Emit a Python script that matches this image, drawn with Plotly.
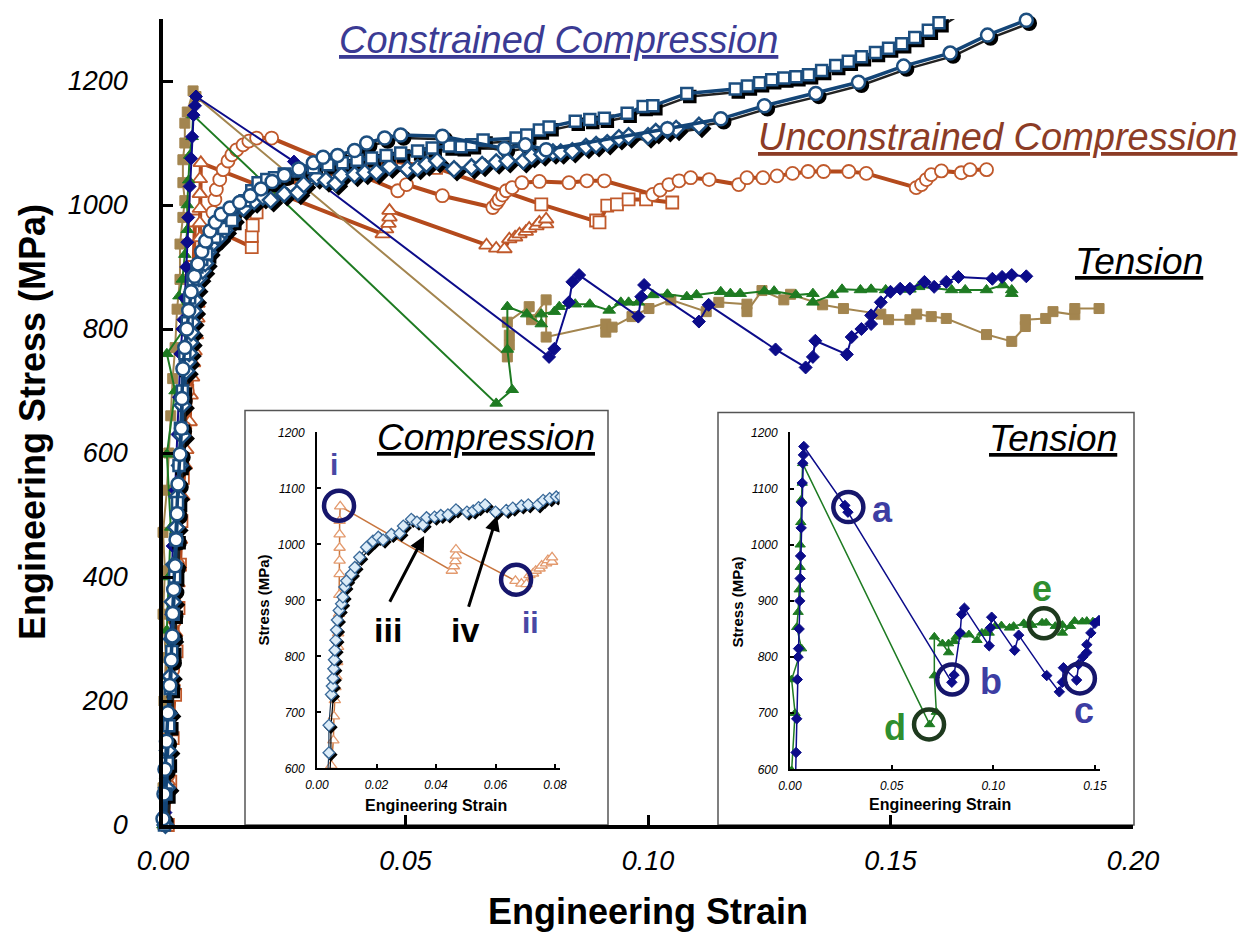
import plotly.graph_objects as go

# ------------------------------------------------------------------
# DATA
# ------------------------------------------------------------------
# Constrained compression - open squares
cc_sq_x = [0.0003, 0.0006, 0.0009, 0.0012, 0.0015, 0.0018, 0.0021, 0.0024, 0.0027, 0.0030,
           0.0033, 0.0036, 0.0040, 0.0045, 0.0050, 0.0055, 0.0062, 0.0070, 0.0080, 0.0090,
           0.0107, 0.0125, 0.0142, 0.0169, 0.0183, 0.0196, 0.0214, 0.0230, 0.0250, 0.0280,
           0.0310, 0.0340, 0.0370, 0.0400, 0.0430, 0.0460, 0.0490, 0.0525, 0.0555, 0.0590,
           0.0615, 0.0636, 0.0660, 0.0728, 0.0750, 0.0776, 0.0796, 0.0850, 0.0880, 0.0910,
           0.0957, 0.0990, 0.1010, 0.1080, 0.1180, 0.1205, 0.1230, 0.1255, 0.1280, 0.1305,
           0.1331, 0.1358, 0.1387, 0.1413, 0.1440, 0.1469, 0.1496, 0.1523, 0.1550, 0.1578,
           0.1600, 0.1625]
cc_sq_y = [0, 50, 100, 160, 220, 280, 340, 400, 460, 520,
           580, 640, 700, 760, 810, 850, 880, 900, 912, 921,
           948, 962, 975, 1007, 1023, 1036, 1041, 1044, 1050, 1055,
           1060, 1065, 1068, 1072, 1076, 1080, 1084, 1087, 1092, 1095,
           1094, 1097, 1105, 1108, 1113, 1121, 1126, 1135, 1138, 1140,
           1148, 1159, 1160, 1180, 1187, 1192, 1197, 1202, 1205, 1207,
           1210, 1217, 1225, 1232, 1239, 1246, 1253, 1260, 1270, 1282,
           1294, 1306]

# Constrained compression - open circles
cc_ci_x = [0.0000, 0.0002, 0.0004, 0.0007, 0.0010, 0.0014, 0.0017, 0.0019, 0.0020, 0.0022,
           0.0025, 0.0027, 0.0029, 0.0031, 0.0035, 0.0038, 0.0039, 0.0041, 0.0045, 0.0049,
           0.0053, 0.0058, 0.0065, 0.0072, 0.0080, 0.0088, 0.0097, 0.0108, 0.0120, 0.0138,
           0.0158, 0.0180, 0.0202, 0.0225, 0.0250, 0.0280, 0.0310, 0.0330, 0.0360, 0.0395,
           0.0420, 0.0457, 0.0490, 0.0576, 0.0704, 0.0747, 0.0790, 0.1040, 0.1150, 0.1240,
           0.1346, 0.1434, 0.1527, 0.1623, 0.1700, 0.1780]
cc_ci_y = [10, 50, 90, 135, 181, 225, 266, 305, 341, 380,
           418, 460, 502, 550, 598, 640, 688, 736, 770, 800,
           830, 860, 885, 905, 925, 942, 958, 972, 985, 995,
           1004, 1015, 1026, 1038, 1048, 1058, 1068, 1077, 1080, 1088,
           1100, 1108, 1113, 1111, 1091, 1097, 1089, 1123, 1139, 1160,
           1180, 1198, 1224, 1245, 1274, 1298]

# Constrained compression - open diamonds (also shown in the Compression inset)
cc_di_x = [0.0005, 0.0008, 0.0010, 0.0012, 0.0015, 0.0018, 0.0020, 0.0023, 0.0027, 0.0030,
           0.0035, 0.0040, 0.0040, 0.0048, 0.0051, 0.0054, 0.0056, 0.0058, 0.0060, 0.0063,
           0.0065, 0.0068, 0.0074, 0.0082, 0.0087, 0.0093, 0.0099, 0.0115, 0.0127, 0.0143,
           0.0166, 0.0188, 0.0206, 0.0222, 0.0250, 0.0278, 0.0290, 0.0317, 0.0336, 0.0356,
           0.0368, 0.0395, 0.0416, 0.0440, 0.0467, 0.0504, 0.0525, 0.0543, 0.0565, 0.0600,
           0.0636, 0.0658, 0.0687, 0.0710, 0.0743, 0.0760, 0.0782, 0.0804, 0.0820, 0.0844,
           0.0872, 0.0893, 0.0916, 0.0940, 0.0960, 0.1000, 0.1016, 0.1040, 0.1058, 0.1105]
cc_di_y = [0, 60, 120, 180, 240, 300, 360, 420, 480, 530,
           580, 628, 677, 732, 747, 761, 778, 794, 811, 829,
           847, 865, 882, 894, 906, 924, 935, 947, 959, 977,
           995, 1006, 1013, 1008, 1018, 1020, 1033, 1045, 1040, 1035,
           1048, 1049, 1052, 1053, 1062, 1058, 1060, 1066, 1071, 1058,
           1061, 1065, 1069, 1071, 1071, 1079, 1082, 1085, 1085, 1087,
           1094, 1097, 1100, 1108, 1111, 1111, 1118, 1121, 1123, 1128]

# Unconstrained compression - open circles
uc_ci_x = [0.0005, 0.0010, 0.0015, 0.0020, 0.0025, 0.0030, 0.0035, 0.0040, 0.0045, 0.0050,
           0.0055, 0.0060, 0.0066, 0.0075, 0.0085, 0.0095, 0.0103, 0.0107, 0.0110, 0.0117,
           0.0124, 0.0134, 0.0142, 0.0152, 0.0165, 0.0177, 0.0193, 0.0224, 0.0484, 0.0502,
           0.0576, 0.0680, 0.0688, 0.0693, 0.0700, 0.0708, 0.0720, 0.0740, 0.0776, 0.0837,
           0.0874, 0.0910, 0.1010, 0.1025, 0.1043, 0.1064, 0.1088, 0.1126, 0.1187, 0.1204,
           0.1237, 0.1266, 0.1298, 0.1330, 0.1362, 0.1414, 0.1450, 0.1553, 0.1564, 0.1574,
           0.1584, 0.1605, 0.1646, 0.1664, 0.1698]
uc_ci_y = [0, 80, 160, 250, 330, 420, 500, 580, 640, 700,
           750, 800, 840, 880, 920, 955, 988, 1009, 1025, 1041,
           1057, 1071, 1081, 1089, 1097, 1103, 1108, 1108, 1023, 1033,
           1015, 996, 1003, 1009, 1016, 1023, 1028, 1036, 1038, 1036,
           1039, 1039, 1017, 1024, 1033, 1039, 1044, 1041, 1033, 1044,
           1044, 1047, 1051, 1054, 1054, 1054, 1051, 1028, 1033, 1041,
           1049, 1055, 1052, 1057, 1057]

# Unconstrained compression - open squares
uc_sq_x = [0.0010, 0.0015, 0.0020, 0.0025, 0.0028, 0.0032, 0.0035, 0.0038, 0.0041, 0.0045,
           0.0050, 0.0055, 0.0060, 0.0063, 0.0066, 0.0183, 0.0183, 0.0185, 0.0193, 0.0196,
           0.0200, 0.0470, 0.0563, 0.0780, 0.0893, 0.0900, 0.0916, 0.0936, 0.0960, 0.0996,
           0.1050]
uc_sq_y = [0, 70, 140, 210, 280, 350, 420, 490, 560, 630,
           700, 770, 840, 900, 975, 932, 950, 967, 988, 1009,
           1025, 1071, 1060, 1001, 975, 972, 999, 1001, 1009, 1009,
           1004]

# Unconstrained compression - open triangles (also shown in the Compression inset)
uc_tr_x = [0.0005, 0.0010, 0.0015, 0.0020, 0.0025, 0.0030, 0.0035, 0.0040, 0.0045, 0.0048,
           0.0055, 0.0057, 0.0060, 0.0062, 0.0065, 0.0068, 0.0071, 0.0071, 0.0074, 0.0075,
           0.0076, 0.0076, 0.0076, 0.0076, 0.0076, 0.0078, 0.0453, 0.0460, 0.0465, 0.0467,
           0.0467, 0.0667, 0.0687, 0.0704, 0.0714, 0.0726, 0.0735, 0.0748, 0.0755, 0.0770,
           0.0776, 0.0790, 0.0790]
uc_tr_y = [0, 70, 150, 230, 310, 390, 460, 530, 580, 605,
           650, 693, 722, 745, 764, 790, 817, 841, 876, 910,
           947, 971, 994, 1018, 1042, 1068, 953, 961, 970, 980,
           991, 935, 930, 929, 945, 948, 953, 957, 962, 966,
           972, 969, 977]

# Tension - filled navy diamonds (also shown in the Tension inset)
t_di_x = [0.0005, 0.0010, 0.0013, 0.0017, 0.0020, 0.0025, 0.0030, 0.0033, 0.0036, 0.0040,
          0.0042, 0.0045, 0.0048, 0.0050, 0.0052, 0.0055, 0.0058, 0.0060, 0.0063, 0.0066,
          0.0068, 0.0270, 0.0285, 0.0796, 0.0807, 0.0837, 0.0844, 0.0858, 0.0980, 0.0986,
          0.0992, 0.1105, 0.1125, 0.1263, 0.1325, 0.1340, 0.1345, 0.1410, 0.1420, 0.1440,
          0.1460, 0.1460, 0.1480, 0.1500, 0.1520, 0.1540, 0.1570, 0.1590, 0.1615, 0.1640,
          0.1710, 0.1730, 0.1750, 0.1780]
t_di_y = [20, 120, 230, 340, 450, 540, 630, 690, 760, 800,
          815, 850, 900, 940, 980, 1030, 1075, 1110, 1145, 1160,
          1175, 1070, 1058, 755, 768, 843, 876, 887, 820, 852,
          871, 812, 839, 767, 738, 755, 781, 759, 787, 800,
          808, 822, 843, 860, 865, 865, 876, 868, 876, 884,
          881, 884, 887, 885]

# Tension - filled green triangles (also shown in the Tension inset)
t_tr_x = [0.0000, 0.0005, 0.0010, 0.0012, 0.0008, 0.0012, 0.0016, 0.0008, 0.0025, 0.0008,
          0.0057, 0.0033, 0.0040, 0.0045, 0.0050, 0.0050, 0.0053, 0.0055, 0.0060, 0.0062,
          0.0687, 0.0720, 0.0710, 0.0710, 0.0750, 0.0780, 0.0780, 0.0807, 0.0817, 0.0850,
          0.0880, 0.0920, 0.0944, 0.0960, 0.0980, 0.1010, 0.1040, 0.1080, 0.1100, 0.1150,
          0.1170, 0.1190, 0.1240, 0.1260, 0.1305, 0.1340, 0.1340, 0.1380, 0.1400, 0.1438,
          0.1460, 0.1490, 0.1520, 0.1540, 0.1558, 0.1626, 0.1654, 0.1698, 0.1732, 0.1750,
          0.1750]
t_tr_y = [0, 80, 160, 240, 314, 400, 480, 598, 700, 760,
          815, 853, 880, 920, 960, 1000, 1040, 1080, 1110, 1145,
          680, 702, 767, 836, 824, 808, 824, 828, 836, 840,
          840, 830, 843, 843, 843, 855, 856, 852, 855, 860,
          857, 857, 861, 861, 855, 857, 843, 855, 864, 863,
          864, 863, 864, 864, 868, 863, 863, 863, 871, 863,
          857]

# Tension - filled tan squares
t_sq_x = [0.0000, 0.0000, 0.0005, 0.0002, 0.0006, 0.0000, 0.0004, 0.0000, 0.0008, 0.0012,
          0.0016, 0.0020, 0.0025, 0.0029, 0.0035, 0.0035, 0.0041, 0.0045, 0.0041, 0.0041,
          0.0045, 0.0045, 0.0050, 0.0062, 0.0068, 0.0710, 0.0714, 0.0714, 0.0710, 0.0755,
          0.0760, 0.0790, 0.0790, 0.0913, 0.0913, 0.0926, 0.0967, 0.1002, 0.1047, 0.1120,
          0.1146, 0.1204, 0.1204, 0.1235, 0.1280, 0.1294, 0.1360, 0.1403, 0.1480, 0.1496,
          0.1540, 0.1554, 0.1584, 0.1615, 0.1698, 0.1750, 0.1778, 0.1778, 0.1820, 0.1835,
          0.1880, 0.1880, 0.1930]
t_sq_y = [0, 60, 130, 200, 270, 340, 410, 472, 540, 600,
          660, 720, 770, 832, 880, 937, 980, 1007, 1036, 1073,
          1100, 1132, 1150, 1184, 1175, 755, 774, 790, 811, 836,
          815, 847, 787, 808, 795, 803, 820, 833, 847, 828,
          843, 840, 828, 862, 847, 856, 839, 833, 824, 815,
          815, 824, 820, 817, 791, 780, 804, 815, 817, 828,
          823, 833, 833]

# Tick values / labels
main_xticks = [0.0, 0.05, 0.10, 0.15, 0.20]
main_xtext = ["0.00", "0.05", "0.10", "0.15", "0.20"]
main_yticks = [0, 200, 400, 600, 800, 1000, 1200]
in1_xticks = [0.0, 0.02, 0.04, 0.06, 0.08]
in1_xtext = ["0.00", "0.02", "0.04", "0.06", "0.08"]
in2_xticks = [0.0, 0.05, 0.10, 0.15]
in2_xtext = ["0.00", "0.05", "0.10", "0.15"]
in_yticks = [600, 700, 800, 900, 1000, 1100, 1200]

# ------------------------------------------------------------------
# LAYOUT HELPERS
# ------------------------------------------------------------------
FONT = "Liberation Sans, Arial, Helvetica, sans-serif"
W, H = 1253, 938
L, R, T, B = 163, 1133, 15, 826          # main plotting area (pixels)
MAIN_X, MAIN_Y = [0, 0.2], [0, 1300]
IN1_X, IN2_X, IN_Y = [0, 0.0815], [0, 0.1525], [600, 1200]


def fx(p):
    return (p - L) / (R - L)


def fy(p):
    return (B - p) / (B - T)


def shift(vals, d):
    return [v + d for v in vals]


# shadow offsets (3 px right / down in main, 2 px in inset)
sdx = 3 * (MAIN_X[1] - MAIN_X[0]) / (R - L)
sdy = -3 * (MAIN_Y[1] - MAIN_Y[0]) / (B - T)
in1_px_w = 559.5 - 317
sdx1 = 2 * (IN1_X[1] - IN1_X[0]) / in1_px_w
sdy1 = -2 * (IN_Y[1] - IN_Y[0]) / (769 - 431)

fig = go.Figure()


def add(x, y, xa="x", ya="y", lc="black", lw=2, sym="circle", ms=10,
        fill="white", mlc="black", mlw=1.5, clip=False):
    fig.add_trace(go.Scatter(
        x=x, y=y, xaxis=xa, yaxis=ya, mode="lines+markers",
        line=dict(color=lc, width=lw),
        marker=dict(symbol=sym, size=ms, color=fill,
                    line=dict(color=mlc, width=mlw)),
        cliponaxis=clip, hoverinfo="skip", showlegend=False))


BROWN_L, BROWN_M = "#b44a1c", "#c0592b"
BLUE_L, BLUE_M = "#134577", "#1d4f80"
NAVY, GREEN, TAN = "#0c0c8a", "#1e7b22", "#a3854f"

# --- main: unconstrained compression
add(uc_sq_x, uc_sq_y, lc=BROWN_L, lw=4, sym="square", ms=12, fill="white", mlc=BROWN_M, mlw=1.8)
add(uc_tr_x, uc_tr_y, lc=BROWN_L, lw=4, sym="triangle-up", ms=13, fill="white", mlc=BROWN_M, mlw=1.8)
add(uc_ci_x, uc_ci_y, lc=BROWN_L, lw=4, sym="circle", ms=13, fill="white", mlc=BROWN_M, mlw=1.8)
# --- main: tension
add(t_sq_x, t_sq_y, lc=TAN, lw=2, sym="square", ms=10, fill=TAN, mlc=TAN, mlw=1)
add(t_tr_x, t_tr_y, lc=GREEN, lw=2, sym="triangle-up", ms=11, fill=GREEN, mlc=GREEN, mlw=1)
add(t_di_x, t_di_y, lc=NAVY, lw=2, sym="diamond", ms=10, fill=NAVY, mlc=NAVY, mlw=1)
# --- main: constrained compression (black drop shadow first)
for xs, ys, sym, ms in [(cc_di_x, cc_di_y, "diamond", 12),
                        (cc_sq_x, cc_sq_y, "square", 11),
                        (cc_ci_x, cc_ci_y, "circle", 13)]:
    add(shift(xs, sdx), shift(ys, sdy), lc="#222222", lw=2.5, sym=sym, ms=ms,
        fill="black", mlc="black", mlw=2.5)
for xs, ys, sym, ms in [(cc_di_x, cc_di_y, "diamond", 12),
                        (cc_sq_x, cc_sq_y, "square", 11),
                        (cc_ci_x, cc_ci_y, "circle", 13)]:
    add(xs, ys, lc=BLUE_L, lw=3.5, sym=sym, ms=ms, fill="white", mlc=BLUE_M, mlw=2.5)

# --- inset 1 (Compression)
add(uc_tr_x, uc_tr_y, "x2", "y2", lc="#c8763f", lw=1.5, sym="triangle-up", ms=10,
    fill="white", mlc="#e39a6e", mlw=1.3, clip=True)
add(shift(cc_di_x, sdx1), shift(cc_di_y, sdy1), "x2", "y2", lc="black", lw=1.2,
    sym="diamond", ms=9, fill="black", mlc="black", mlw=1.3, clip=True)
add(cc_di_x, cc_di_y, "x2", "y2", lc="#1c3a5a", lw=1.2, sym="diamond", ms=9,
    fill="#dcecf8", mlc="#3a6a9a", mlw=1.3, clip=True)

# --- inset 2 (Tension)
add(t_tr_x, t_tr_y, "x3", "y3", lc=GREEN, lw=1.5, sym="triangle-up", ms=9,
    fill=GREEN, mlc=GREEN, mlw=1, clip=True)
add(t_di_x, t_di_y, "x3", "y3", lc=NAVY, lw=1.5, sym="diamond", ms=8,
    fill=NAVY, mlc=NAVY, mlw=1, clip=True)

# ------------------------------------------------------------------
# AXES
# ------------------------------------------------------------------
tickf_main = dict(family=FONT, size=27, color="black", style="italic")
tickf_in = dict(family=FONT, size=12, color="black", style="italic")
common = dict(showgrid=False, zeroline=False, showline=True, linecolor="black")

fig.update_layout(
    width=W, height=H,
    margin=dict(l=L, r=W - R, t=T, b=H - B, pad=0),
    paper_bgcolor="white", plot_bgcolor="white",
    showlegend=False, font=dict(family=FONT, color="black"),
    xaxis=dict(**common, domain=[0, 1], anchor="y", range=MAIN_X,
               tickvals=main_xticks, ticktext=main_xtext,
               ticks="inside", ticklen=10, tickwidth=3, tickcolor="black",
               linewidth=3.5, tickfont=tickf_main, ticklabelstandoff=9,
               title=dict(text="<b>Engineering Strain</b>", standoff=25,
                          font=dict(family=FONT, size=36, color="black"))),
    yaxis=dict(**common, domain=[0, 1], anchor="x", range=MAIN_Y,
               tickvals=main_yticks,
               ticks="inside", ticklen=10, tickwidth=3, tickcolor="black",
               linewidth=3.5, tickfont=tickf_main, ticklabelstandoff=26,
               title=dict(text="<b>Engineering Stress (MPa)</b>", standoff=12,
                          font=dict(family=FONT, size=36, color="black"))),
    xaxis2=dict(**common, domain=[fx(317), fx(559.5)], anchor="y2", range=IN1_X,
                tickvals=in1_xticks, ticktext=in1_xtext,
                ticks="inside", ticklen=4, tickwidth=1.5, tickcolor="black",
                linewidth=1.8, tickfont=tickf_in, ticklabelstandoff=4),
    yaxis2=dict(**common, domain=[fy(769), fy(431)], anchor="x2", range=IN_Y,
                tickvals=in_yticks,
                ticks="inside", ticklen=4, tickwidth=1.5, tickcolor="black",
                linewidth=1.8, tickfont=tickf_in, ticklabelstandoff=8),
    xaxis3=dict(**common, domain=[fx(790), fx(1100)], anchor="y3", range=IN2_X,
                tickvals=in2_xticks, ticktext=in2_xtext,
                ticks="inside", ticklen=4, tickwidth=1.5, tickcolor="black",
                linewidth=1.8, tickfont=tickf_in, ticklabelstandoff=4),
    yaxis3=dict(**common, domain=[fy(770), fy(431)], anchor="x3", range=IN_Y,
                tickvals=in_yticks,
                ticks="inside", ticklen=4, tickwidth=1.5, tickcolor="black",
                linewidth=1.8, tickfont=tickf_in, ticklabelstandoff=8),
)

# ------------------------------------------------------------------
# SHAPES: inset frames and highlight circles
# ------------------------------------------------------------------
shapes = [
    dict(type="rect", xref="paper", yref="paper", x0=fx(245), x1=fx(608),
         y0=fy(826), y1=fy(409), line=dict(color="#555555", width=1.5), layer="below"),
    dict(type="rect", xref="paper", yref="paper", x0=fx(718), x1=fx(1134),
         y0=fy(826), y1=fy(411), line=dict(color="#555555", width=1.5), layer="below"),
]


def ring(xref, yref, x, y, color):
    return dict(type="circle", xref=xref, yref=yref, xsizemode="pixel",
                ysizemode="pixel", xanchor=x, yanchor=y, x0=-15, x1=15,
                y0=-15, y1=15, line=dict(color=color, width=4.5))


RING_B, RING_G = "#16166c", "#1e3a1e"
shapes += [ring("x2", "y2", 0.0074, 1069, RING_B),
           ring("x2", "y2", 0.0669, 937, RING_B),
           ring("x3", "y3", 0.0287, 1067, RING_B),
           ring("x3", "y3", 0.0798, 760, RING_B),
           ring("x3", "y3", 0.1426, 762, RING_B),
           ring("x3", "y3", 0.0684, 680, RING_G),
           ring("x3", "y3", 0.1249, 860, RING_G)]
fig.update_layout(shapes=shapes)

# ------------------------------------------------------------------
# ANNOTATIONS
# ------------------------------------------------------------------
ann = []


def ptext(text, xp, yp, size, color, style="italic", angle=0):
    ann.append(dict(text=text, x=fx(xp), y=fy(yp), xref="paper", yref="paper",
                    showarrow=False, xanchor="center", yanchor="middle",
                    textangle=angle,
                    font=dict(family=FONT, size=size, color=color, style=style)))


ptext("<u>Constrained Compression</u>", 558, 36, 38, "#3b3b94")
ptext("<u>Unconstrained Compression</u>", 997, 134, 38, "#8c3c26")
ptext("<u>Tension</u>", 1139, 259, 37, "black")
ptext("<u>Compression</u>", 486, 436, 37, "black")
ptext("<u>Tension</u>", 1053, 437, 37, "black")
# inset axis titles
ptext("<b>Stress (MPa)</b>", 263, 600, 15, "black", style="normal", angle=-90)
ptext("<b>Engineering Strain</b>", 436, 806, 16, "black", style="normal")
ptext("<b>Stress (MPa)</b>", 737, 602, 15, "black", style="normal", angle=-90)
ptext("<b>Engineering Strain</b>", 940, 805, 16, "black", style="normal")


def dtext(text, xr, yr, x, y, size, color):
    ann.append(dict(text="<b>" + text + "</b>", x=x, y=y, xref=xr, yref=yr,
                    showarrow=False, xanchor="center", yanchor="middle",
                    font=dict(family=FONT, size=size, color=color)))


LBL_B, LBL_G = "#3d3da3", "#2f8f2f"
dtext("i", "x2", "y2", 0.0057, 1143, 30, "#4848a4")
dtext("ii", "x2", "y2", 0.0716, 861, 30, "#4848a4")
dtext("iii", "x2", "y2", 0.0239, 848, 34, "black")
dtext("iv", "x2", "y2", 0.0497, 847, 34, "black")
dtext("a", "x3", "y3", 0.0457, 1062, 36, LBL_B)
dtext("b", "x3", "y3", 0.0988, 756, 36, LBL_B)
dtext("c", "x3", "y3", 0.1445, 704, 36, LBL_B)
dtext("d", "x3", "y3", 0.0516, 674, 36, LBL_G)
dtext("e", "x3", "y3", 0.1239, 922, 36, LBL_G)

# arrows for iii and iv
for head, tail in [((0.0360, 1015), (0.0242, 895)),
                   ((0.0605, 1051), (0.0508, 886))]:
    ann.append(dict(x=head[0], y=head[1], ax=tail[0], ay=tail[1],
                    xref="x2", yref="y2", axref="x2", ayref="y2", text="",
                    showarrow=True, arrowhead=2, arrowsize=1, arrowwidth=3,
                    arrowcolor="black", standoff=0))

fig.update_layout(annotations=ann)

fig.write_html("out.html",
               config={"displayModeBar": False},
               post_script="document.body.style.margin='0px';"
                           "document.body.style.overflow='hidden';")
